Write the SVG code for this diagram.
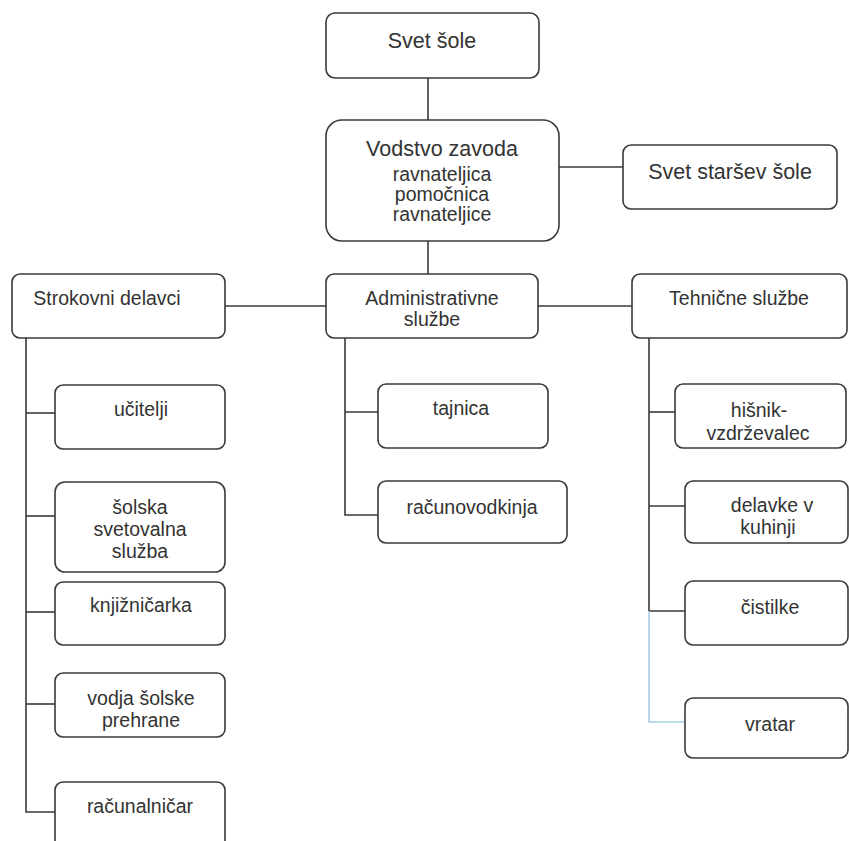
<svg xmlns="http://www.w3.org/2000/svg" width="849" height="841" viewBox="0 0 849 841">
<style>
.box{fill:#fff;stroke:#3a3a3a;stroke-width:1.6}
.ln{fill:none;stroke:#3a3a3a;stroke-width:1.6}
.blue{fill:none;stroke:#a9cfe9;stroke-width:1.6}
text{font-family:"Liberation Sans",Arial,sans-serif;fill:#333;text-anchor:middle;font-size:19.5px}
.big{font-size:21.5px}
</style>
<rect width="849" height="841" fill="#fff"/>
<g id="connectors">
<line class="ln" x1="428" y1="78" x2="428" y2="120"/>
<line class="ln" x1="559" y1="167" x2="623" y2="167"/>
<line class="ln" x1="428" y1="241" x2="428" y2="274"/>
<line class="ln" x1="225" y1="306" x2="326" y2="306"/>
<line class="ln" x1="538" y1="306" x2="632" y2="306"/>
<polyline class="ln" points="26,338 26,812 55,812"/>
<line class="ln" x1="26" y1="413" x2="55" y2="413"/>
<line class="ln" x1="26" y1="516" x2="55" y2="516"/>
<line class="ln" x1="26" y1="612" x2="55" y2="612"/>
<line class="ln" x1="26" y1="704" x2="55" y2="704"/>
<polyline class="ln" points="345,338 345,515 378,515"/>
<line class="ln" x1="345" y1="412" x2="378" y2="412"/>
<polyline class="ln" points="649,338 649,611 685,611"/>
<line class="ln" x1="649" y1="412" x2="675" y2="412"/>
<line class="ln" x1="649" y1="506" x2="685" y2="506"/>
<polyline class="blue" points="649,611 649,722 685,722"/>
</g>
<g id="svet-sole"><rect class="box" x="326" y="13" width="213" height="65" rx="9"/><text class="big" x="432" y="48">Svet šole</text></g>
<g id="vodstvo"><rect class="box" x="326" y="120" width="233" height="121" rx="16"/>
<text class="big" x="442" y="156">Vodstvo zavoda</text>
<text x="442" y="181">ravnateljica</text>
<text x="442" y="201">pomočnica</text>
<text x="442" y="221">ravnateljice</text></g>
<g id="svet-starsev"><rect class="box" x="623" y="145" width="214" height="64" rx="8"/><text class="big" x="730" y="179">Svet staršev šole</text></g>
<g id="strokovni"><rect class="box" x="12" y="274" width="213" height="64" rx="8"/><text x="107" y="305">Strokovni delavci</text></g>
<g id="administrativne"><rect class="box" x="326" y="274" width="212" height="64" rx="8"/><text x="432" y="305">Administrativne</text><text x="432" y="326">službe</text></g>
<g id="tehnicne"><rect class="box" x="632" y="274" width="215" height="64" rx="8"/><text x="739" y="305">Tehnične službe</text></g>
<g id="ucitelji"><rect class="box" x="55" y="385" width="170" height="64" rx="8"/><text x="141" y="416">učitelji</text></g>
<g id="svetovalna"><rect class="box" x="55" y="482" width="170" height="90" rx="10"/><text x="140" y="514">šolska</text><text x="140" y="536">svetovalna</text><text x="140" y="558">služba</text></g>
<g id="knjiznicarka"><rect class="box" x="55" y="582" width="170" height="63" rx="8"/><text x="141" y="612">knjižničarka</text></g>
<g id="prehrana"><rect class="box" x="55" y="673" width="170" height="64" rx="8"/><text x="141" y="705">vodja šolske</text><text x="141" y="727">prehrane</text></g>
<g id="racunalnicar"><rect class="box" x="55" y="782" width="170" height="70" rx="8"/><text x="140" y="813">računalničar</text></g>
<g id="tajnica"><rect class="box" x="378" y="384" width="170" height="64" rx="8"/><text x="461" y="415">tajnica</text></g>
<g id="racunovodkinja"><rect class="box" x="378" y="481" width="189" height="62" rx="8"/><text x="472" y="514">računovodkinja</text></g>
<g id="hisnik"><rect class="box" x="675" y="384" width="171" height="64" rx="8"/><text x="759" y="417">hišnik-</text><text x="758" y="440">vzdrževalec</text></g>
<g id="kuhinja"><rect class="box" x="685" y="481" width="163" height="62" rx="8"/><text x="772" y="512">delavke v</text><text x="768" y="534">kuhinji</text></g>
<g id="cistilke"><rect class="box" x="685" y="581" width="163" height="64" rx="8"/><text x="770" y="614">čistilke</text></g>
<g id="vratar"><rect class="box" x="685" y="698" width="163" height="60" rx="8"/><text x="770" y="731">vratar</text></g>
</svg>
